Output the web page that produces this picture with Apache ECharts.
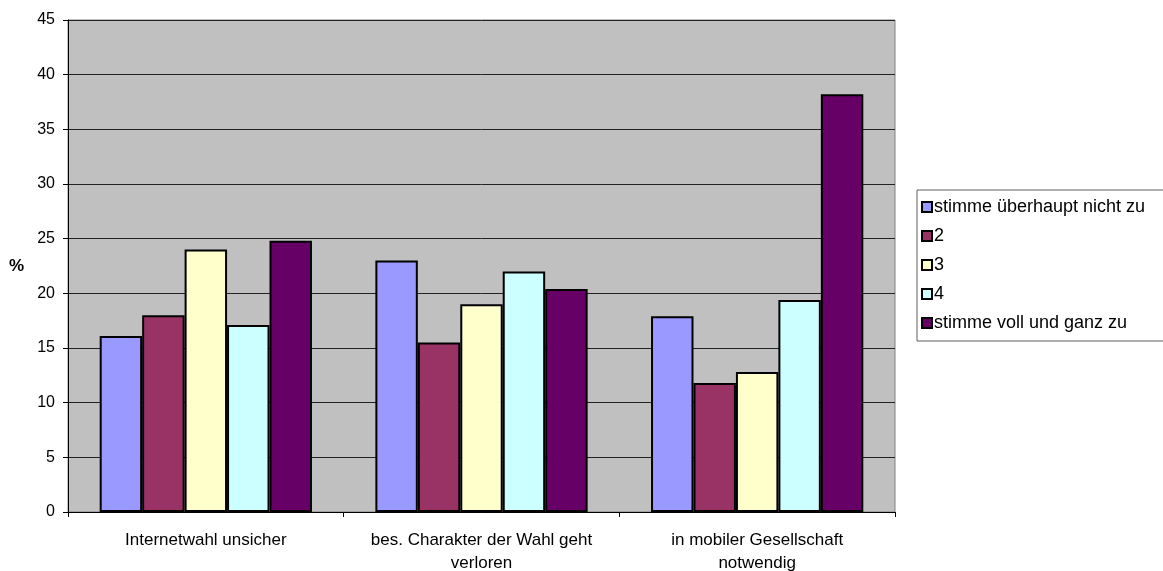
<!DOCTYPE html>
<html>
<head>
<meta charset="utf-8">
<script src="https://cdn.jsdelivr.net/npm/echarts@6/dist/echarts.min.js"></script>
<style>
  html, body { margin: 0; padding: 0; background: #fff; }
  #chart { width: 1163px; height: 571px; }
</style>
</head>
<body>
<div id="chart"></div>
<script>
const categories = ['Internetwahl unsicher', 'bes. Charakter der Wahl geht\nverloren', 'in mobiler Gesellschaft\nnotwendig']
const seriesNames = ['stimme überhaupt nicht zu', '2', '3', '4', 'stimme voll und ganz zu']
const seriesColors = ['#9999FF', '#993366', '#FFFFCC', '#CCFFFF', '#660066']
const valuesNicht = [16.1, 23.0, 17.9]
const values2 = [18.0, 15.5, 11.8]
const values3 = [24.0, 19.0, 12.8]
const values4 = [17.1, 22.0, 19.4]
const valuesVoll = [24.8, 20.4, 38.2]
const yTicks = [0, 5, 10, 15, 20, 25, 30, 35, 40, 45]

const allValues = [valuesNicht, values2, values3, values4, valuesVoll]
const font = 'Liberation Sans, Arial, sans-serif'

const chart = echarts.init(document.getElementById('chart'))
chart.setOption({
  animation: false,
  textStyle: { fontFamily: font },
  grid: {
    left: 68, right: 268, top: 20, bottom: 59,
    containLabel: false,
    outerBoundsMode: 'none',
    show: true,
    backgroundColor: '#C0C0C0',
    borderColor: '#808080',
    borderWidth: 1
  },
  legend: {
    orient: 'vertical',
    left: 917,
    top: 190,
    padding: [8, 40, 9, 4],
    itemGap: 11,
    itemWidth: 10,
    itemHeight: 10,
    icon: 'rect',
    borderColor: '#606060',
    borderWidth: 1,
    backgroundColor: '#fff',
    textStyle: { fontSize: 18, color: '#000', fontFamily: font, padding: [0, 0, 0, -3] },
    data: seriesNames
  },
  xAxis: {
    type: 'category',
    data: categories,
    axisLine: { lineStyle: { color: '#000', width: 1 } },
    axisTick: { show: true, length: 5, lineStyle: { color: '#000' } },
    axisLabel: { interval: 0, fontSize: 17, color: '#000', margin: 17, lineHeight: 23, fontFamily: font },
    splitLine: { show: false }
  },
  yAxis: {
    type: 'value',
    min: yTicks[0],
    max: yTicks[yTicks.length - 1],
    interval: 5,
    name: '%',
    nameLocation: 'middle',
    nameRotate: 0,
    nameGap: 44,
    nameTextStyle: { fontSize: 17, fontWeight: 'bold', color: '#000', fontFamily: font },
    axisLine: { show: true, lineStyle: { color: '#000', width: 1 } },
    axisTick: { show: true, length: 5, lineStyle: { color: '#000' } },
    axisLabel: { fontSize: 16, color: '#000', margin: 13, fontFamily: font },
    splitLine: { show: true, lineStyle: { color: '#222', width: 1 } }
  },
  series: seriesNames.map((name, i) => ({
    name: name,
    type: 'bar',
    data: allValues[i],
    barGap: '0%',
    barCategoryGap: '23%',
    itemStyle: {
      color: seriesColors[i],
      borderColor: '#000',
      borderWidth: 2
    }
  }))
})
</script>
</body>
</html>
